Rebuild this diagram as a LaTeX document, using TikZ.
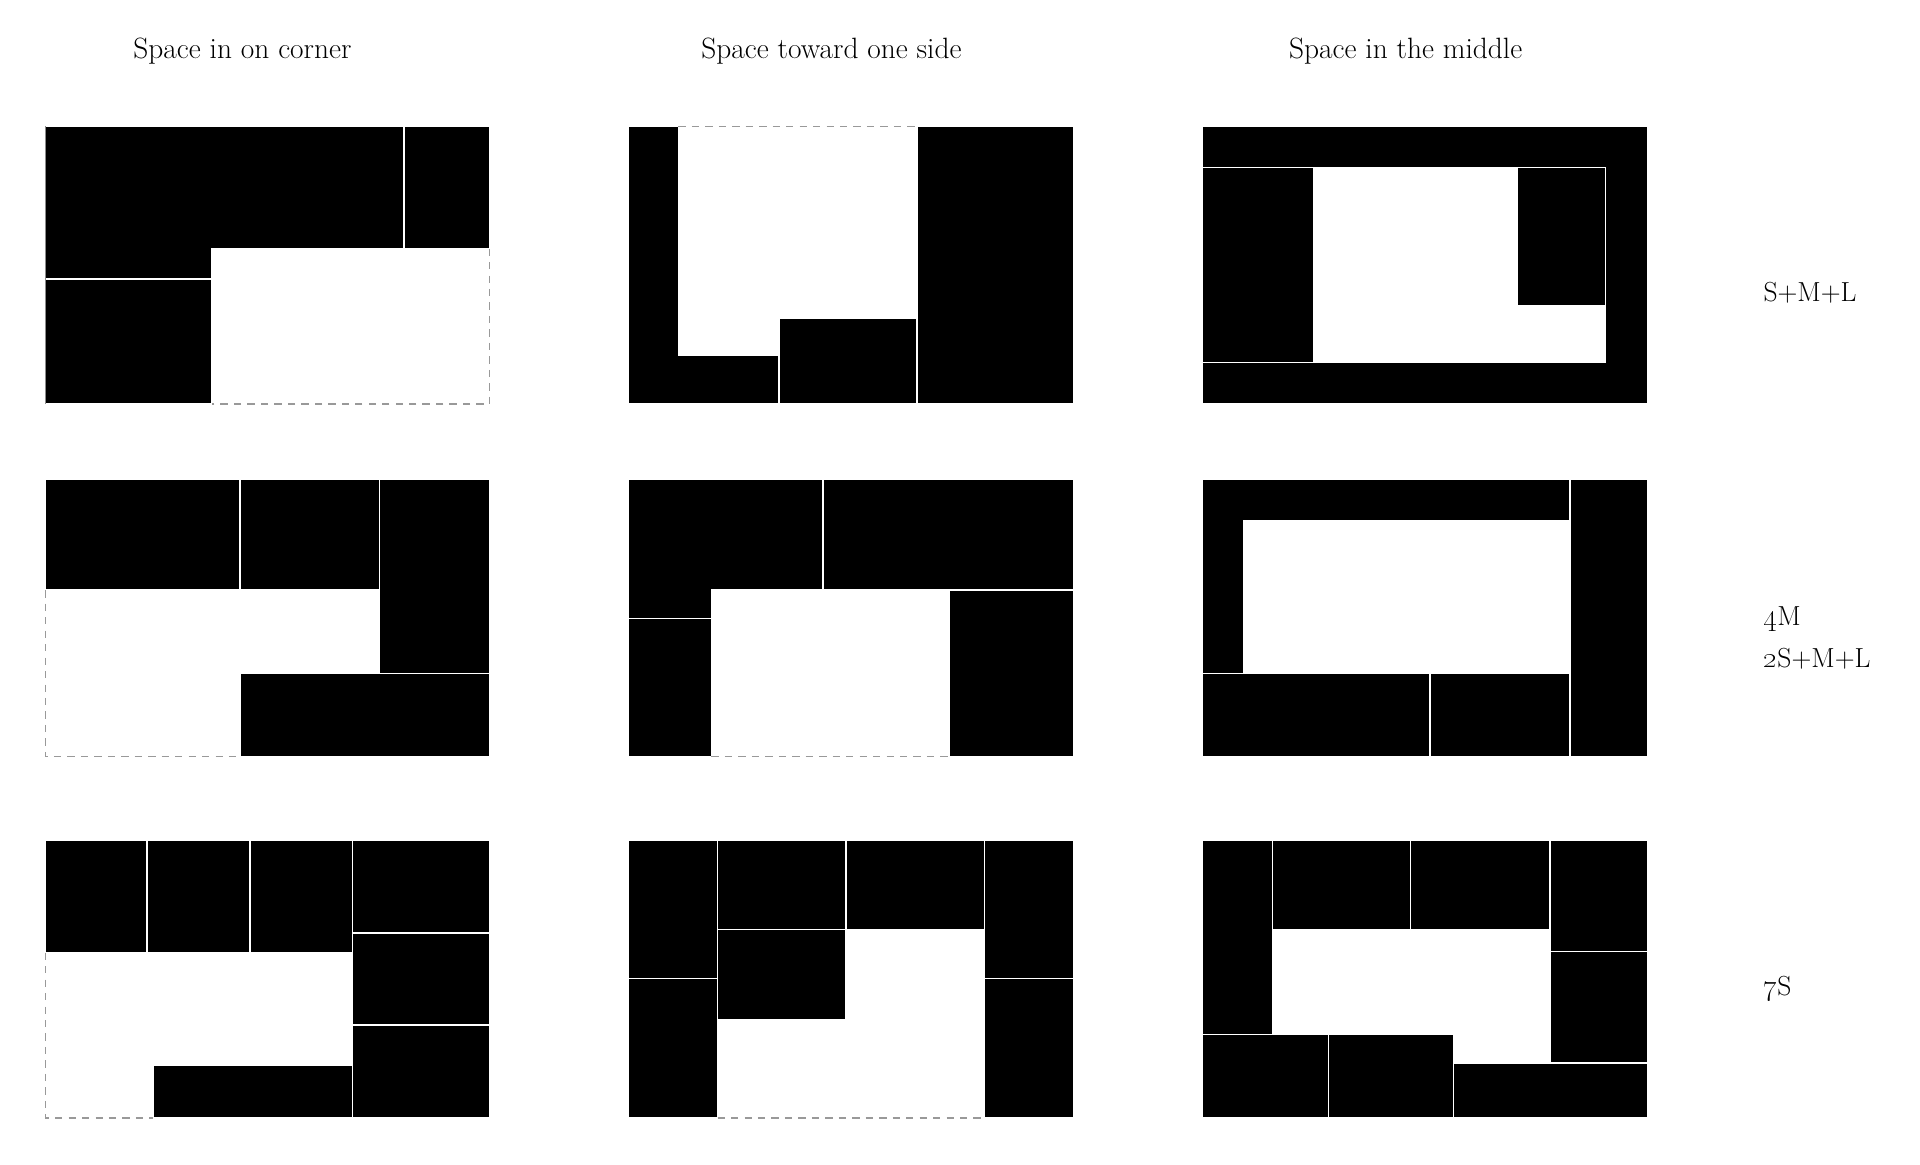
\documentclass[tikz,border=0pt]{standalone}
\newcommand{\onum}[1]{{\fontsize{27}{30}\selectfont\oldstylenums{#1}}}
\begin{document}
\begin{tikzpicture}[x=1pt,y=-1pt,
    blk/.style={fill=black, draw=white, line width=1.2pt},
    gap/.style={draw=black!40, line width=1pt, dash pattern=on 6pt off 5pt},
    edge/.style={draw=black!45, line width=1pt}]

        \useasboundingbox (0,0) rectangle (1568,950.6);

        \begin{scope}[every node/.style={font=\fontsize{24}{28}\selectfont, anchor=base, inner sep=0pt}]
          \node (t1) at (198,48)  {Space in on corner};
          \node (t2) at (679,48)  {Space toward one side};
          \node (t3) at (1148,48) {Space in the middle};
        \end{scope}

        \begin{scope}[every node/.style={font=\fontsize{22.5}{26}\selectfont, anchor=base west, inner sep=0pt}]
          \node (r1)  at (1440,246) {S+M+L};
          \node (r2a) at (1440,511) {\onum{4}M};
          \node (r2b) at (1440,545) {\onum{2}S+M+L};
          \node (r3)  at (1440,813) {\onum{7}S};
        \end{scope}

        \begin{scope}
          \path[blk] (37,103) -- (330,103) -- (330,203) -- (173,203) -- (173,228) -- (37,228) -- cycle;
          \path[blk] (330,103) rectangle (400,203);
          \path[blk] (37,228) rectangle (173,330);
          \path[gap] (400,203) -- (400,330) -- (173,330);
          \path[edge] (37,103) -- (37,330);

          \path[blk] (513,103) -- (554,103) -- (554,290) -- (636,290) -- (636,330) -- (513,330) -- cycle;
          \path[blk] (636,260) rectangle (749,330);
          \path[blk] (749,103) rectangle (877,330);
          \path[gap] (554,103) -- (749,103);

          \path[blk] (982,103) -- (1346,103) -- (1346,330) -- (982,330) -- (982,296) -- (1311,296) -- (1311,137) -- (982,137) -- cycle;
          \path[blk] (982,137) rectangle (1073,296);
          \path[blk] (1239,137) rectangle (1311,250);
        \end{scope}

        \begin{scope}
          \path[blk] (37,391) rectangle (196,482);
          \path[blk] (196,391) rectangle (310,482);
          \path[blk] (310,391) rectangle (400,550);
          \path[blk] (196,550) rectangle (400,618);
          \path[gap] (37,482) -- (37,618) -- (196,618);

          \path[blk] (513,391) -- (672,391) -- (672,482) -- (581,482) -- (581,505) -- (513,505) -- cycle;
          \path[blk] (672,391) rectangle (877,482);
          \path[blk] (513,505) rectangle (581,618);
          \path[blk] (775,482) rectangle (877,618);
          \path[gap] (581,618) -- (775,618);

          \path[blk] (982,391) -- (1282,391) -- (1282,425) -- (1016,425) -- (1016,550) -- (982,550) -- cycle;
          \path[blk] (1282,391) rectangle (1346,618);
          \path[blk] (982,550) rectangle (1168,618);
          \path[blk] (1168,550) rectangle (1282,618);
        \end{scope}

        \begin{scope}
          \path[blk] (37,686) rectangle (120,778);
          \path[blk] (120,686) rectangle (204,778);
          \path[blk] (204,686) rectangle (288,778);
          \path[blk] (288,686) rectangle (400,762);
          \path[blk] (288,762) rectangle (400,837);
          \path[blk] (288,837) rectangle (400,913);
          \path[blk] (125,870) rectangle (288,913);
          \path[gap] (37,778) -- (37,913) -- (125,913);

          \path[blk] (513,686) rectangle (586,799);
          \path[blk] (513,799) rectangle (586,913);
          \path[blk] (586,686) rectangle (691,759);
          \path[blk] (691,686) rectangle (804,759);
          \path[blk] (586,759) rectangle (691,833);
          \path[blk] (804,686) rectangle (877,799);
          \path[blk] (804,799) rectangle (877,913);
          \path[gap] (586,913) -- (804,913);

          \path[blk] (982,686) rectangle (1039,845);
          \path[blk] (1039,686) rectangle (1152,759);
          \path[blk] (1152,686) rectangle (1266,759);
          \path[blk] (1266,686) rectangle (1346,777);
          \path[blk] (1266,777) rectangle (1346,868);
          \path[blk] (982,845) rectangle (1085,913);
          \path[blk] (1085,845) rectangle (1187,913);
          \path[blk] (1187,868) rectangle (1346,913);
        \end{scope}

      \end{tikzpicture}
\end{document}
